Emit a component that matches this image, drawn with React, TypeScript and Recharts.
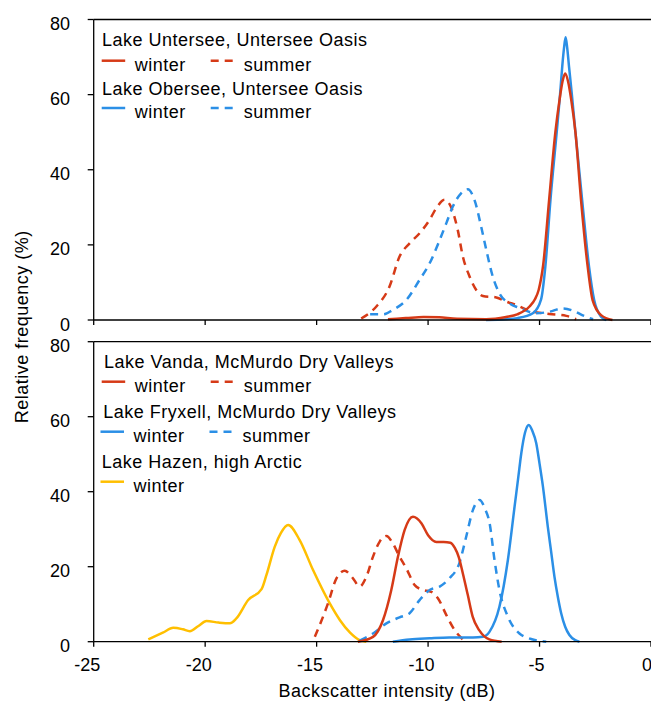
import React from 'react';
import { LineChart, Line, XAxis, YAxis, ReferenceLine } from 'recharts';

type Pt = [number, number];

const xTicks = [-25, -20, -15, -10, -5, 0];
const yTicks = [0, 20, 40, 60, 80];

const unterseeWinter: Pt[] = [[-11.8,0.2],[-11.0,0.5],[-10.2,0.8],[-9.5,0.7],[-8.7,0.3],[-7.4,0.2],[-6.5,0.8],[-6.0,1.5],[-5.45,3.6],[-5.2,5.6],[-5.04,8],[-4.84,14.5],[-4.57,32],[-4.29,50],[-4.1,58.7],[-3.97,63.5],[-3.85,65.6],[-3.72,63.5],[-3.58,58.7],[-3.39,50],[-3.14,32],[-2.84,14.2],[-2.62,5.3],[-2.24,1.3],[-1.73,0]];
const unterseeSummer: Pt[] = [[-13.0,0.4],[-12.32,3.6],[-11.73,8.9],[-11.28,16.9],[-10.83,20.4],[-10.38,23.1],[-9.93,26.7],[-9.63,29.8],[-9.26,32],[-8.95,29.8],[-8.67,24],[-8.44,16.9],[-8.14,11.6],[-7.84,8],[-7.54,6.4],[-6.94,6],[-6.5,4.9],[-6.05,4],[-5.46,2.5],[-4.56,1.6],[-3.8,1.1],[-3.36,0.2]];
const oberseeWinter: Pt[] = [[-7.4,0],[-6.5,0.2],[-6.0,0.5],[-5.3,1.8],[-4.93,5.5],[-4.74,14.2],[-4.51,32],[-4.23,50],[-4.08,60],[-3.98,67.6],[-3.9,72.5],[-3.83,75.3],[-3.76,72.5],[-3.68,67.6],[-3.55,60],[-3.39,50],[-3.09,32],[-2.78,14.2],[-2.55,5.3],[-2.24,0.9],[-2.0,0]];
const oberseeSummer: Pt[] = [[-12.6,1.5],[-12.0,1.5],[-11.58,2.7],[-10.98,5.3],[-10.38,10.7],[-9.93,15.1],[-9.48,21.3],[-9.18,25.8],[-8.89,30.2],[-8.51,33.8],[-8.22,34.8],[-7.92,32],[-7.62,24.9],[-7.39,18.7],[-7.1,11.6],[-6.8,7.1],[-6.35,4.4],[-5.9,3.2],[-5.15,1.8],[-4.56,2.2],[-3.96,3.1],[-3.5,2.5],[-3.0,1.1],[-2.6,0.2]];

const vandaWinter: Pt[] = [[-13.15,0],[-12.47,1.3],[-12.02,5.8],[-11.65,13.8],[-11.35,22.7],[-11.05,29.8],[-10.68,33.3],[-10.3,31.6],[-10.0,28.4],[-9.63,26.6],[-9.3,26.6],[-9.0,26.4],[-8.8,25],[-8.62,22.5],[-8.44,18.2],[-8.22,12.5],[-8.0,6.7],[-7.7,3],[-7.25,0.6],[-6.7,0]];
const vandaSummer: Pt[] = [[-15.08,1.3],[-14.49,10.2],[-14.11,16.9],[-13.74,18.9],[-13.37,16.9],[-13.07,14.7],[-12.77,17.3],[-12.47,22.7],[-12.17,26.7],[-11.87,28.2],[-11.58,26.2],[-11.28,22.7],[-10.98,19.6],[-10.6,15.1],[-10.23,13.8],[-9.86,13.3],[-9.56,11.6],[-9.18,7.1],[-8.81,3.1],[-8.44,0.6]];
const fryxellWinter: Pt[] = [[-11.58,0],[-10.83,0.6],[-9.93,0.9],[-9.04,1.1],[-7.99,1.1],[-7.54,1.3],[-7.24,2.7],[-6.8,9.3],[-6.42,21.8],[-6.12,36],[-5.95,44],[-5.82,50.2],[-5.65,55.8],[-5.48,57.8],[-5.32,56.2],[-5.15,53],[-5.0,47.5],[-4.85,41.5],[-4.63,30.7],[-4.48,24],[-4.33,17.3],[-4.18,12],[-4.03,7.6],[-3.85,4],[-3.66,1.8],[-3.4,0.4],[-3.21,0]];
const fryxellSummer: Pt[] = [[-13.07,0.3],[-12.47,2.2],[-11.87,4.9],[-11.28,6.5],[-10.83,7.6],[-10.38,11.1],[-9.93,13.8],[-9.48,14.7],[-9.04,16.9],[-8.6,20.9],[-8.29,28],[-7.99,35.1],[-7.69,37.8],[-7.45,35.5],[-7.24,31.6],[-7.02,21.8],[-6.8,13.8],[-6.42,6.7],[-5.9,2.2],[-5.3,0.6],[-4.7,0]];
const hazenWinter: Pt[] = [[-22.55,0.6],[-21.9,2.4],[-21.43,3.7],[-21.0,3.3],[-20.69,2.8],[-20.3,4.2],[-19.94,5.5],[-19.4,5.1],[-18.89,4.9],[-18.6,6.2],[-18.07,11.1],[-17.47,14],[-17.25,17.8],[-16.88,25.3],[-16.6,29],[-16.28,31.1],[-15.76,27.1],[-15.16,19.1],[-14.41,10.2],[-13.96,5.8],[-13.5,2.4],[-13.07,0.4],[-12.77,0]];

const RED = '#d63a17';
const BLUE = '#2b8fe6';
const YELLOW = '#ffbf00';
const FONT = '"Liberation Sans", Arial, sans-serif';
const DASH = '8 6';
const TXT = { fontSize: 18, fontFamily: FONT, fill: '#000', style: { letterSpacing: '0.5px' } };

const toRows = (pts: Pt[]) => pts.map(([x, y]) => ({ x, y }));

const YTick = (props: any) => {
  const { x, y, payload } = props;
  return (
    <text x={x - 17.7} y={y + 10.5} textAnchor="end" fontSize={18} fontFamily={FONT} fill="#000">
      {payload.value}
    </text>
  );
};

const XTick = (props: any) => {
  const { x, y, payload } = props;
  const v = payload.value;
  const dx = v <= -10 ? -6.5 : v < 0 ? -3 : 0;
  return (
    <text x={x + dx} y={y + 24.3} textAnchor="middle" fontSize={18} fontFamily={FONT} fill="#000">
      {v}
    </text>
  );
};

const EmptyTick = () => <g />;

const axisLine = { stroke: '#000', strokeWidth: 1.3 };

const series = (pts: Pt[], color: string, dashed: boolean, key: string) => (
  <Line
    key={key}
    data={toRows(pts)}
    dataKey="y"
    type="monotone"
    stroke={color}
    strokeWidth={2.5}
    strokeDasharray={dashed ? DASH : undefined}
    dot={false}
    activeDot={false}
    isAnimationActive={false}
  />
);

const LegendRow = ({ y, color, dashed, label, x0 }: { y: number; color: string; dashed: boolean; label: string; x0: number }) => (
  <g>
    <line x1={x0} x2={x0 + 23.5} y1={y} y2={y} stroke={color} strokeWidth={2.5} strokeDasharray={dashed ? DASH : undefined} />
    <text x={x0 + 33} y={y + 10} {...TXT}>{label}</text>
  </g>
);

const Title = ({ x, y, text }: { x: number; y: number; text: string }) => (
  <text x={x} y={y} {...TXT}>{text}</text>
);

export default function App() {
  return (
    <div style={{ position: 'absolute', left: 0, top: 0, width: 651, height: 704, background: '#fff', overflow: 'hidden' }}>
      <div style={{ position: 'absolute', left: 0, top: 0 }}>
        <LineChart width={651} height={345} margin={{ top: 19.5, right: 0, bottom: 0, left: 0 }}>
          <XAxis
            dataKey="x"
            type="number"
            domain={[-25, 0]}
            ticks={xTicks}
            allowDataOverflow
            height={25}
            tickSize={5}
            tickMargin={0}
            tick={EmptyTick}
            axisLine={axisLine}
            tickLine={axisLine}
          />
          <YAxis
            type="number"
            domain={[0, 80]}
            ticks={yTicks}
            width={93.7}
            tickSize={6}
            tickMargin={0}
            tick={YTick}
            axisLine={axisLine}
            tickLine={axisLine}
          />
          <ReferenceLine y={80} stroke="#000" strokeWidth={1.3} />
          {series(unterseeSummer, RED, true, 'us')}
          {series(oberseeSummer, BLUE, true, 'os')}
          {series(oberseeWinter, BLUE, false, 'ow')}
          {series(unterseeWinter, RED, false, 'uw')}
        </LineChart>
      </div>
      <div style={{ position: 'absolute', left: 0, top: 330 }}>
        <LineChart width={651} height={374} margin={{ top: 11.7, right: 0, bottom: 0, left: 0 }}>
          <XAxis
            dataKey="x"
            type="number"
            domain={[-25, 0]}
            ticks={xTicks}
            allowDataOverflow
            height={62.3}
            tickSize={5}
            tickMargin={0}
            tick={XTick}
            axisLine={axisLine}
            tickLine={axisLine}
          />
          <YAxis
            type="number"
            domain={[0, 80]}
            ticks={yTicks}
            width={93.7}
            tickSize={6}
            tickMargin={0}
            tick={YTick}
            axisLine={axisLine}
            tickLine={axisLine}
          />
          <ReferenceLine y={80} stroke="#000" strokeWidth={1.3} />
          {series(hazenWinter, YELLOW, false, 'hw')}
          {series(vandaSummer, RED, true, 'vs')}
          {series(fryxellSummer, BLUE, true, 'fs')}
          {series(fryxellWinter, BLUE, false, 'fw')}
          {series(vandaWinter, RED, false, 'vw')}
        </LineChart>
      </div>
      <svg width={651} height={704} style={{ position: 'absolute', left: 0, top: 0, pointerEvents: 'none' }}>
        <Title x={102} y={45.7} text="Lake Untersee, Untersee Oasis" />
        <LegendRow x0={101.7} y={60.7} color={RED} dashed={false} label="winter" />
        <LegendRow x0={210.7} y={60.7} color={RED} dashed={true} label="summer" />
        <Title x={102} y={95} text="Lake Obersee, Untersee Oasis" />
        <LegendRow x0={101.7} y={108} color={BLUE} dashed={false} label="winter" />
        <LegendRow x0={210.7} y={108} color={BLUE} dashed={true} label="summer" />

        <Title x={104} y={368.3} text="Lake Vanda, McMurdo Dry Valleys" />
        <LegendRow x0={101.7} y={381.7} color={RED} dashed={false} label="winter" />
        <LegendRow x0={210.7} y={381.7} color={RED} dashed={true} label="summer" />
        <Title x={103.3} y={418.3} text="Lake Fryxell, McMurdo Dry Valleys" />
        <LegendRow x0={100.5} y={431.7} color={BLUE} dashed={false} label="winter" />
        <LegendRow x0={209.5} y={431.7} color={BLUE} dashed={true} label="summer" />
        <Title x={101.7} y={468.3} text="Lake Hazen, high Arctic" />
        <LegendRow x0={100.5} y={481.7} color={YELLOW} dashed={false} label="winter" />

        <text x={387} y={697.3} textAnchor="middle" {...TXT}>Backscatter intensity (dB)</text>
        <text transform="translate(28,326.7) rotate(-90)" textAnchor="middle" {...TXT}>Relative frequency (%)</text>
      </svg>
    </div>
  );
}
